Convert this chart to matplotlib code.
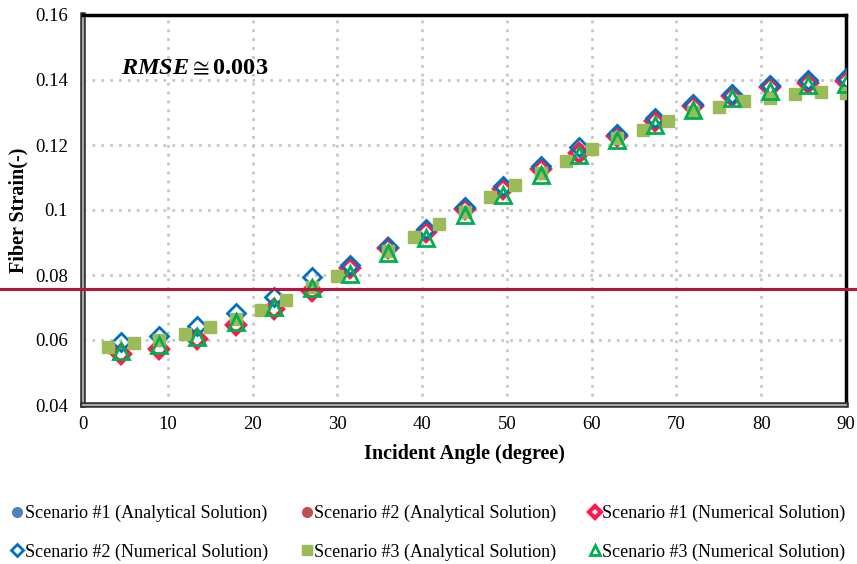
import matplotlib
matplotlib.use("Agg")
import matplotlib.pyplot as plt
import matplotlib.transforms as mtransforms
import matplotlib.patheffects as pe
from matplotlib.lines import Line2D

# ---------------- data ----------------
x_num = [4.5, 9, 13.5, 18, 22.5, 27, 31.5, 36, 40.5, 45,
         49.5, 54, 58.5, 63, 67.5, 72, 76.5, 81, 85.5, 90]
s1_num = [0.0556, 0.0571, 0.0602, 0.0645, 0.0695, 0.0750, 0.0820, 0.0882, 0.0932, 0.1002,
          0.1065, 0.1125, 0.1175, 0.1228, 0.1275, 0.1320, 0.1350, 0.1378, 0.1390, 0.1398]
s2_num = [0.0593, 0.0612, 0.0644, 0.0683, 0.0733, 0.0793, 0.0832, 0.0885, 0.0942, 0.1008,
          0.1075, 0.1135, 0.1195, 0.1235, 0.1284, 0.1325, 0.1357, 0.1385, 0.1400, 0.1405]
s3_num = [0.0565, 0.0585, 0.0610, 0.0656, 0.0700, 0.0760, 0.0803, 0.0868, 0.0913, 0.0985,
          0.1046, 0.1108, 0.1168, 0.1215, 0.1262, 0.1308, 0.1344, 0.1366, 0.1385, 0.1388]
s1_ana = [0.0557, 0.0572, 0.0603, 0.0646, 0.0696, 0.0751, 0.0821, 0.0882, 0.0933, 0.1003,
          0.1066, 0.1126, 0.1176, 0.1229, 0.1276, 0.1321, 0.1351, 0.1379, 0.1391, 0.1399]
s2_ana = [0.0558, 0.0574, 0.0605, 0.0647, 0.0697, 0.0752, 0.0822, 0.0883, 0.0934, 0.1004,
          0.1067, 0.1127, 0.1177, 0.1230, 0.1277, 0.1322, 0.1352, 0.1380, 0.1392, 0.1400]
x_s3a = [3, 6, 9, 12, 15, 18, 21, 24, 27, 30, 36, 39, 42, 45, 48,
         51, 54, 57, 60, 63, 66, 69, 72, 75, 78, 81, 84, 87, 90]
s3_ana = [0.0580, 0.0590, 0.0600, 0.0617, 0.0640, 0.0665, 0.0692, 0.0724, 0.0762, 0.0797,
          0.0875, 0.0916, 0.0956, 0.0995, 0.1040, 0.1078, 0.1115, 0.1152, 0.1188, 0.1220,
          0.1247, 0.1275, 0.1300, 0.1318, 0.1334, 0.1346, 0.1356, 0.1362, 0.1360]
ref_line = 0.0757

x_ticks = [0, 10, 20, 30, 40, 50, 60, 70, 80, 90]
y_ticks = [0.04, 0.06, 0.08, 0.10, 0.12, 0.14, 0.16]
y_ticklabels = ["0.04", "0.06", "0.08", "0.1", "0.12", "0.14", "0.16"]
labels = ["Scenario #1 (Analytical Solution)", "Scenario #2 (Analytical Solution)",
          "Scenario #1 (Numerical Solution)", "Scenario #2 (Numerical Solution)",
          "Scenario #3 (Analytical Solution)", "Scenario #3 (Numerical Solution)"]

serif = ["Liberation Serif", "DejaVu Serif"]
plt.rcParams["font.family"] = serif
plt.rcParams["mathtext.fontset"] = "custom"
plt.rcParams["mathtext.it"] = "Liberation Serif:italic:bold"
plt.rcParams["mathtext.bf"] = "Liberation Serif:bold"
plt.rcParams["mathtext.rm"] = "Liberation Serif:bold"

c_s1a, c_s2a = "#4F81BD", "#C0504D"
c_red, c_blue = "#FF1A4B", "#0070C0"
c_sq, c_tri = "#9BBB59", "#00B050"

fig = plt.figure(figsize=(8.57, 5.64), dpi=100)
ax = fig.add_axes([83/857, 1-405/564, (846-83)/857, (405-15)/564])

ax.plot(x_num, s1_ana, ls="none", marker="o", ms=3, color=c_s1a, zorder=3)
ax.plot(x_num, s2_ana, ls="none", marker="o", ms=3, color=c_s2a, zorder=3)
ax.plot(x_num, s1_num, ls="none", marker="D", ms=9, mfc="white", mec=c_red,
        mew=3, zorder=4)
ax.plot(x_num, s2_num, ls="none", marker="D", ms=9, mfc="none", mec=c_blue,
        mew=2, zorder=5)
ax.plot(x_s3a, s3_ana, ls="none", marker="s", ms=9, color=c_sq, zorder=6)
ax.plot(x_num, s3_num, ls="none", marker="^", ms=11, mfc="none", mec=c_tri,
        mew=2, zorder=7)

ax.set_xlim(0, 90)
ax.set_ylim(0.04, 0.16)
ax.set_xticks(x_ticks)
ax.set_yticks(y_ticks)
ax.set_yticklabels(y_ticklabels)
ax.tick_params(axis="both", length=0, labelsize=13.5)
ax.tick_params(axis="y", pad=11)
ax.tick_params(axis="x", pad=8)
ax.grid(True, color="#C8C8C8", ls=(0, (1, 2.2)), lw=2)
ax.set_axisbelow(True)

for s in ["top", "right"]:
    ax.spines[s].set_linewidth(2.5)
    ax.spines[s].set_color("black")
for s in ["left", "bottom"]:
    ax.spines[s].set_linewidth(1.2)
    ax.spines[s].set_color("#C0C0C0")
    ax.spines[s].set_path_effects([pe.Stroke(linewidth=4, foreground="#333333"), pe.Normal()])

ax.set_xlabel("Incident Angle (degree)", fontsize=14.5, fontweight="bold", labelpad=8)
ax.set_ylabel("Fiber Strain(-)", fontsize=14.5, fontweight="bold")
ax.yaxis.set_label_coords(-(83 - 28) / (846 - 83), 0.5)

# reference line across the whole figure
trans = mtransforms.blended_transform_factory(fig.transFigure, ax.transData)
fig.add_artist(Line2D([0, 1], [ref_line, ref_line], transform=trans, color="#B5173A",
                      lw=2.2, zorder=10))

ax.text(0.05, 0.848, r"$\mathit{RMSE} \cong \mathbf{0.003}$", transform=ax.transAxes,
        fontsize=17.5, va="baseline", ha="left")

# legend proxies
p0 = Line2D([], [], ls="none", marker="o", ms=7, color=c_s1a)
p1 = Line2D([], [], ls="none", marker="o", ms=7, color=c_s2a)
p2 = Line2D([], [], ls="none", marker="D", ms=6, mfc="white", mec=c_red, mew=3)
p3 = Line2D([], [], ls="none", marker="D", ms=6, mfc="none", mec=c_blue, mew=2)
p4 = Line2D([], [], ls="none", marker="s", ms=7, color=c_sq)
p5 = Line2D([], [], ls="none", marker="^", ms=7, mfc="none", mec=c_tri, mew=2)

handles = [p0, p3, p1, p4, p2, p5]
labs = [labels[0], labels[3], labels[1], labels[4], labels[2], labels[5]]
fig.legend(handles, labs, ncol=3, loc="lower left", bbox_to_anchor=(-0.005, -0.023),
           frameon=False, fontsize=13, handlelength=0.6, handletextpad=0.1,
           columnspacing=1.85, labelspacing=1.16)

fig.savefig("out.png", dpi=100)
